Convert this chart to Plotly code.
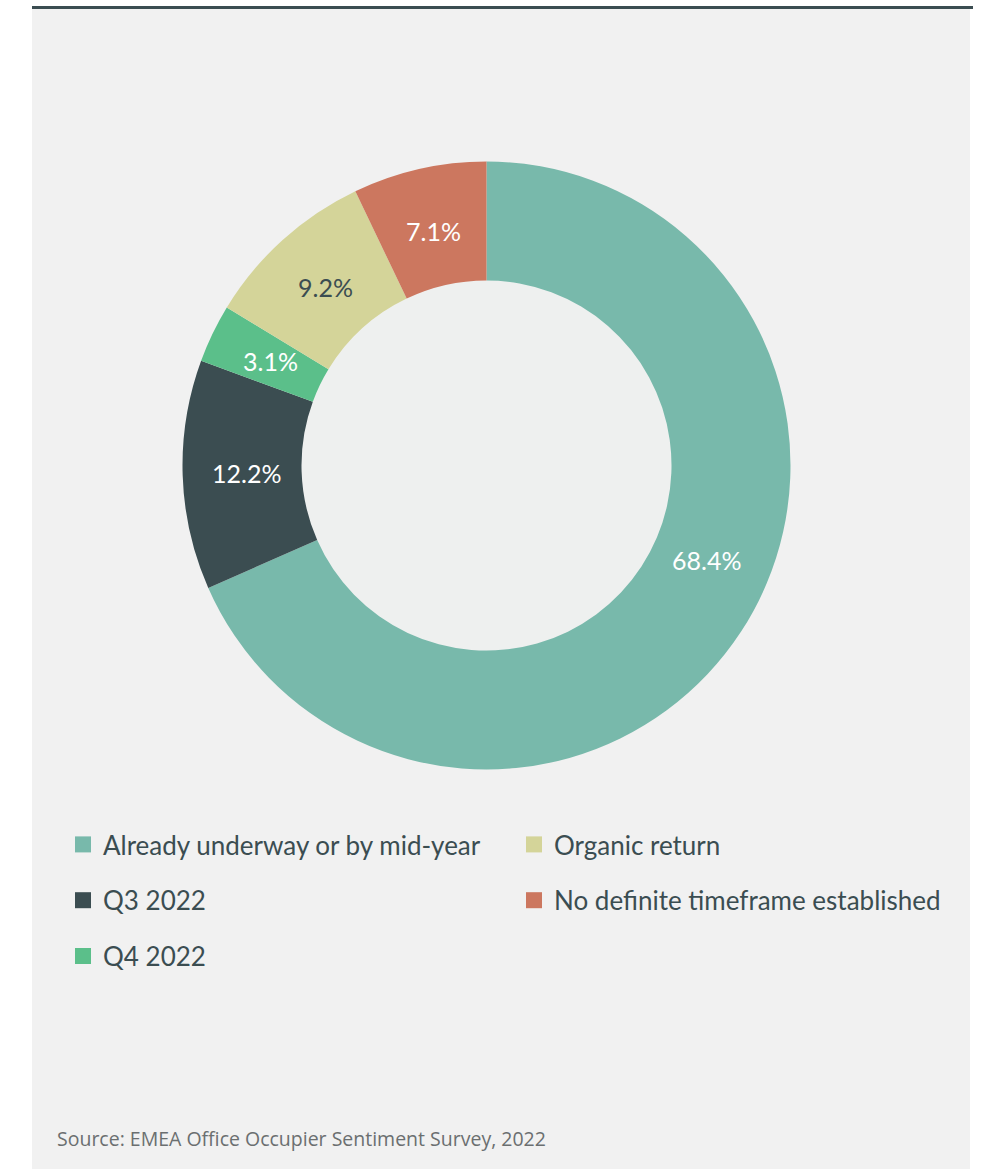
import math
import plotly.graph_objects as go

# Survey answers: when will the return to office happen
categories = [
    "Already underway or by mid-year",
    "Q3 2022",
    "Q4 2022",
    "Organic return",
    "No definite timeframe established",
]
shares = [68.4, 12.2, 3.1, 9.2, 7.1]
colors = ["#78b9ab", "#3b4d51", "#5bbf8a", "#d4d499", "#cc775f"]
label_colors = ["#ffffff", "#ffffff", "#ffffff", "#3b4d51", "#ffffff"]
# where along each slice (0 = start, 1 = end) its label sits
label_pos = [0.46, 0.5, 0.5, 0.5, 0.5]

# legend columns (indices into categories)
legend_cols = [[0, 1, 2], [3, 4]]

source_note = "Source: EMEA Office Occupier Sentiment Survey, 2022"

W, H = 981, 1169
cx, cy, r_out, r_in = 486.5, 465.5, 304, 185
TEXT = "#3b4d51"


def px(x):
    return x / W


def py(y):
    return 1 - y / H


fig = go.Figure()

fig.add_trace(go.Pie(
    labels=categories,
    values=shares,
    sort=False,
    direction="clockwise",
    rotation=0,
    hole=r_in / r_out,
    marker=dict(colors=colors, line=dict(width=0)),
    textinfo="none",
    showlegend=False,
    hoverinfo="label+percent",
    domain=dict(x=[px(cx - r_out), px(cx + r_out)],
                y=[py(cy + r_out), py(cy - r_out)]),
))

# percentage labels, placed on the ring at each slice's angle
total = sum(shares)
rm = 240
start = 0.0
labels = []
for v, c, f in zip(shares, label_colors, label_pos):
    ang = math.radians(360 * (start + v * f) / total)
    start += v
    labels.append(dict(
        x=px(cx + rm * math.sin(ang)), y=py(cy - rm * math.cos(ang)),
        xref="paper", yref="paper", xanchor="center", yanchor="middle",
        showarrow=False, text=f"{v}%",
        font=dict(family="Lato", size=25, color=c),
    ))

# legend entries: two columns
for col, idxs in enumerate(legend_cols):
    for i in idxs:
        fig.add_trace(go.Scatter(
            x=[None], y=[None], mode="markers", name=categories[i],
            marker=dict(symbol="square", size=18, color=colors[i]),
            legend="legend" if col == 0 else "legend2",
            legendgroup=categories[i],
            hoverinfo="skip",
        ))

legend_style = dict(
    bgcolor="rgba(0,0,0,0)",
    font=dict(family="Lato", size=26, color=TEXT),
    tracegroupgap=19,
    itemsizing="trace",
    xanchor="left", yanchor="top",
    orientation="v",
)

fig.update_layout(
    width=W, height=H,
    margin=dict(l=0, r=0, t=0, b=0),
    paper_bgcolor="#ffffff",
    plot_bgcolor="rgba(0,0,0,0)",
    xaxis=dict(visible=False),
    yaxis=dict(visible=False),
    legend=dict(x=px(63), y=py(821), **legend_style),
    legend2=dict(x=px(514), y=py(821), **legend_style),
    shapes=[
        # panel
        dict(type="rect", xref="paper", yref="paper", layer="below",
             x0=px(32), x1=px(970), y0=0, y1=py(8),
             fillcolor="#f1f1f1", line=dict(width=0)),
        # rule on top of the panel
        dict(type="line", xref="paper", yref="paper", layer="below",
             x0=px(32), x1=px(973), y0=py(7.5), y1=py(7.5),
             line=dict(color="#3b4d51", width=3)),
        # donut hole tint
        dict(type="circle", xref="paper", yref="paper", layer="below",
             x0=px(cx - r_in), x1=px(cx + r_in),
             y0=py(cy + r_in), y1=py(cy - r_in),
             fillcolor="#eef0ef", line=dict(width=0)),
    ],
    annotations=labels + [
        dict(x=px(55), y=py(1138), xref="paper", yref="paper",
             xanchor="left", yanchor="middle", showarrow=False,
             text=source_note,
             font=dict(family="Open Sans", size=19.5, color="#6b6f70")),
    ],
)

fig.write_html("out.html")
